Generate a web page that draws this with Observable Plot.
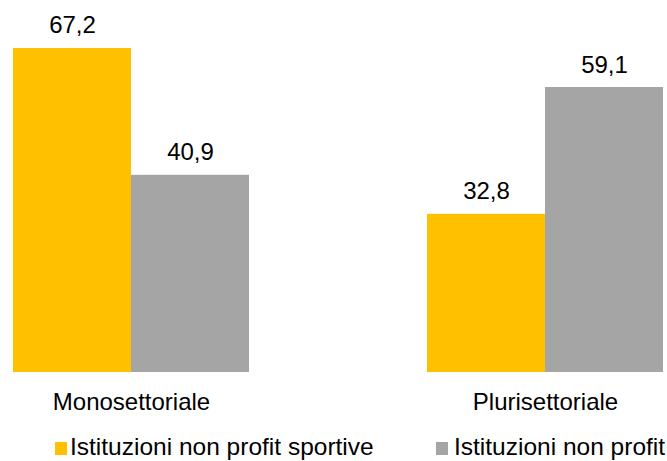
<!DOCTYPE html>
<html><head><meta charset="utf-8">
<script src="https://cdn.jsdelivr.net/npm/d3@7"></script>
<script src="https://cdn.jsdelivr.net/npm/@observablehq/plot@0.6"></script>
<style>
body{margin:0;background:#fff;font-family:"Liberation Sans",Arial,sans-serif;}
#legend{position:relative;height:41px;width:667px;font-size:24.5px;color:#000;overflow:hidden;}
.sw{position:absolute;width:12px;height:13px;}
.lt{position:absolute;line-height:24px;white-space:nowrap;}
</style></head><body>
<div id="chart"></div>
<div id="legend"></div>
<script>
const categories = ["Monosettoriale", "Plurisettoriale"];
const seriesNames = ["Istituzioni non profit sportive", "Istituzioni non profit"];
const sportive = [67.2, 32.8];
const nonprofit = [40.9, 59.1];
const colors = ["#FFC000", "#A5A5A5"];

const data = categories.flatMap((c, i) => [
  {cat: c, series: seriesNames[0], value: sportive[i]},
  {cat: c, series: seriesNames[1], value: nonprofit[i]}
]);
const fmt = v => d3.format(".1f")(v).replace(".", ",");

const chart = Plot.plot({
  width: 667, height: 420,
  marginLeft: 13, marginRight: 4, marginTop: 20, marginBottom: 48,
  style: {fontFamily: '"Liberation Sans", Arial, sans-serif', fontSize: "24px", color: "#000", background: "#fff", overflow: "visible"},
  fx: {domain: categories, paddingInner: 0.43, paddingOuter: 0, axis: "bottom", label: null, tickSize: 0, tickPadding: 20},
  x: {domain: seriesNames, padding: 0, axis: null},
  y: {domain: [0, 73], axis: null},
  color: {domain: seriesNames, range: colors},
  marks: [
    Plot.barY(data, {fx: "cat", x: "series", y: "value", fill: "series"}),
    Plot.text(data, {fx: "cat", x: "series", y: "value", text: d => fmt(d.value), lineAnchor: "bottom", dy: -15, fill: "#000"})
  ]
});
document.getElementById("chart").appendChild(chart);

const legend = document.getElementById("legend");
const swLeft = [55, 436];
const txtLeft = [70, 454];
seriesNames.forEach((s, i) => {
  const sw = document.createElement("div");
  sw.className = "sw";
  sw.style.left = swLeft[i] + "px";
  sw.style.top = "22px";
  sw.style.background = colors[i];
  legend.appendChild(sw);
  const t = document.createElement("div");
  t.className = "lt";
  t.style.left = txtLeft[i] + "px";
  t.style.top = "15px";
  t.textContent = s;
  legend.appendChild(t);
});
</script>
</body></html>
